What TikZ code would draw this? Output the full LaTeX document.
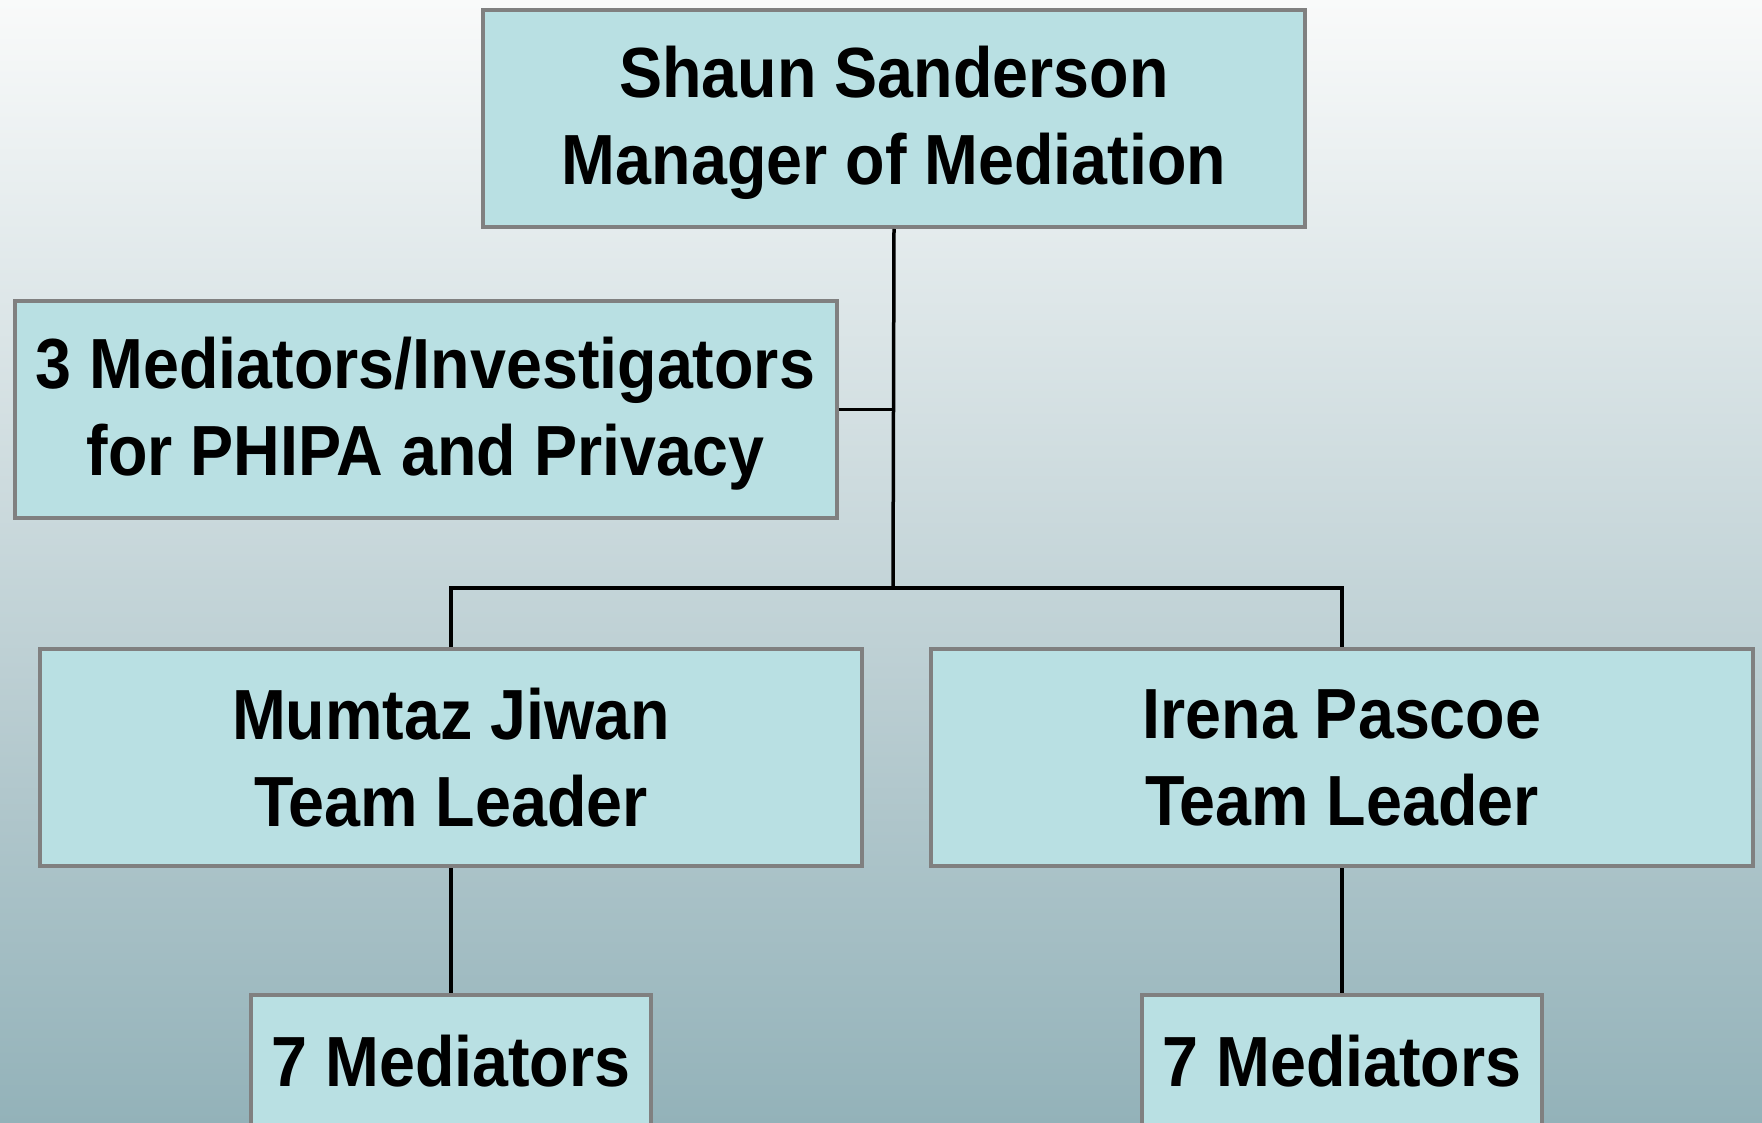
\documentclass[tikz,border=0pt]{standalone}
\usepackage{fontspec}
\setmainfont{Liberation Sans}[FakeStretch=0.91]

\definecolor{bgtop}{HTML}{F9FAFA}
\definecolor{bgbottom}{HTML}{93B2B9}
\definecolor{boxfill}{HTML}{B9E0E3}
\definecolor{boxline}{HTML}{808080}

\begin{document}
\begin{tikzpicture}[x=0.5pt, y=-0.5pt,
    post/.style={draw=boxline, line width=2pt, fill=boxfill, rectangle,
        align=center, inner sep=0pt, minimum width=411pt, minimum height=108.5pt,
        font=\bfseries\fontsize{35.5}{43.5}\selectfont},
    small/.style={post, minimum width=200pt, minimum height=66pt},
    link/.style={line width=1.75pt, black}]
            % Фон
            \useasboundingbox (0, 0) rectangle (1762, 1123);
            \shade[top color=bgtop, bottom color=bgbottom] (0, 0) rectangle (1762, 1123);

            % Должности
            \node[post, text depth=3pt] (boss) at (894, 118.5) {Shaun Sanderson\\Manager of Mediation};
            \node[post, text depth=3pt] (pool) at (425.5, 409.5) {3 Mediators/Investigators\\for PHIPA and Privacy};
            \node[post] (mumtaz) at (451, 757.5) {Mumtaz Jiwan\\Team Leader};
            \node[post] (irena) at (1342, 757.5) {Irena Pascoe\\Team Leader};
            \node[small] (teamA) at (451, 1061) {7 Mediators};
            \node[small] (teamB) at (1342, 1061) {7 Mediators};

            % Связи
            \coordinate (split) at (893, 588);
            \draw[link] (boss.south) -- (split);
            \draw[link] (pool.east) -- (pool.east -| split);
            \draw[link] (mumtaz.north) |- (split) -| (irena.north);
            \draw[link] (mumtaz.south) -- (teamA.north);
            \draw[link] (irena.south) -- (teamB.north);

        \end{tikzpicture}
\end{document}
